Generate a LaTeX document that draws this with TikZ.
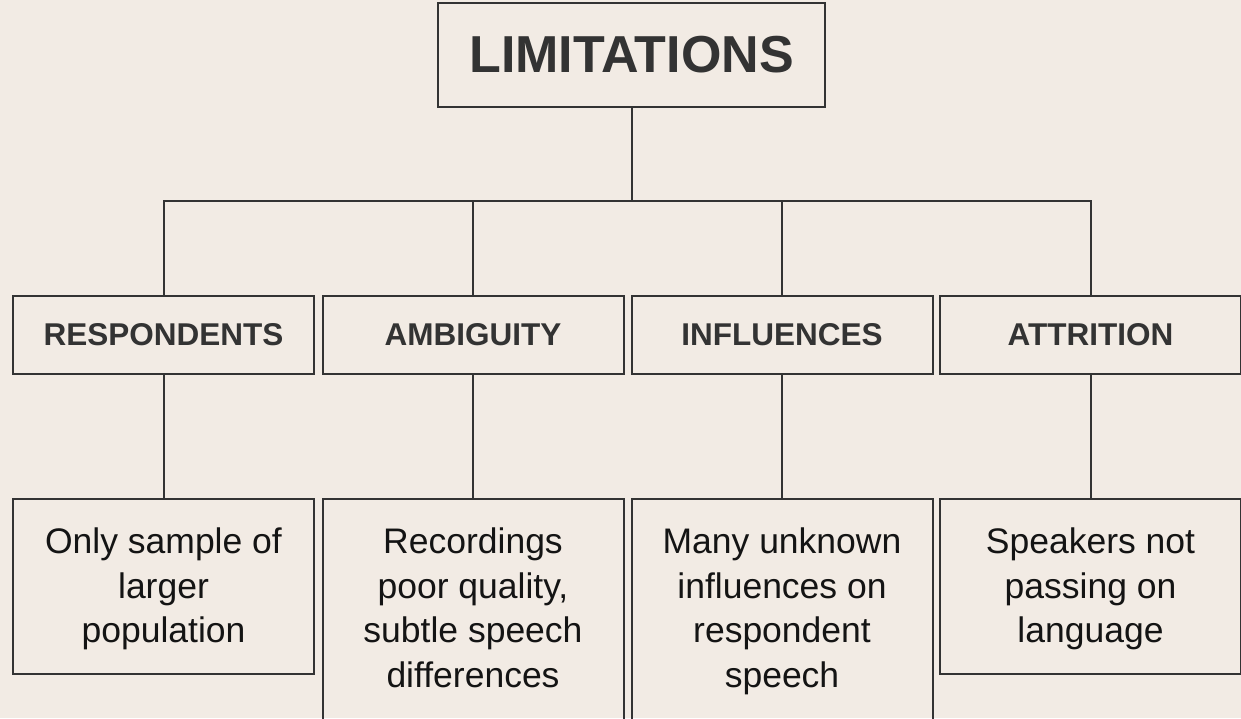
\documentclass[tikz,border=0pt]{standalone}
\usepackage{fontspec}
\setmainfont{Liberation Sans}
\begin{document}
\begin{tikzpicture}[x=1pt,y=-1pt,
  line width=2pt,
  box/.style={draw=linec, fill=none, inner sep=0pt, line join=miter},
  titlebox/.style={box, minimum width=387pt, minimum height=104pt,
    font=\bfseries\fontsize{52}{62}\selectfont, text=inkc},
  catbox/.style={box, minimum width=301pt, minimum height=78pt,
    font=\bfseries\fontsize{31.5}{38}\selectfont, text=inkc},
  detbox/.style={box, minimum width=301pt},
  dettext/.style={inner sep=0pt, anchor=north, align=center, text=detc,
    font=\fontsize{35.5}{44.5}\selectfont},
  link/.style={draw=linec, line width=2pt}
]
\definecolor{bgc}{HTML}{F2EBE4}
\definecolor{linec}{HTML}{333333}
\definecolor{inkc}{HTML}{333333}
\definecolor{detc}{HTML}{141414}

% canvas
\useasboundingbox (0,0) rectangle (1241,718);
\fill[bgc] (0,0) rectangle (1241,718);
\clip (0,0) rectangle (1241,718);

% root
\node[titlebox] (root) at (631.5,55) {LIMITATIONS};

% categories
\node[catbox] (resp) at (163.5,335) {RESPONDENTS};
\node[catbox] (ambi) at (473,335) {AMBIGUITY};
\node[catbox] (infl) at (782,335) {INFLUENCES};
\node[catbox] (attr) at (1090.5,335) {ATTRITION};

% detail boxes (the middle two run past the lower edge)
\node[detbox, minimum height=175pt] (respd) at (163.5,586.5) {};
\node[detbox, minimum height=261pt] (ambid) at (473,629.5) {};
\node[detbox, minimum height=261pt] (infld) at (782,629.5) {};
\node[detbox, minimum height=175pt] (attrd) at (1090.5,586.5) {};

\node[dettext] (respt) at (163.5,527) {Only sample of\\larger\\population};
\node[dettext] (ambit) at (473,527) {Recordings\\poor quality,\\subtle speech\\differences};
\node[dettext] (inflt) at (782,527) {Many unknown\\influences on\\respondent\\speech};
\node[dettext] (attrt) at (1090.5,527) {Speakers not\\passing on\\language};

% tree connectors
\coordinate (bus) at (0,201);
\draw[link] (root.south) -- (root.south |- bus);
\draw[link] (resp.north) |- (bus -| attr.north) -- (attr.north);
\draw[link] (ambi.north) -- (ambi.north |- bus);
\draw[link] (infl.north) -- (infl.north |- bus);

\draw[link] (resp.south) -- (respd.north);
\draw[link] (ambi.south) -- (ambid.north);
\draw[link] (infl.south) -- (infld.north);
\draw[link] (attr.south) -- (attrd.north);
\end{tikzpicture}
\end{document}
